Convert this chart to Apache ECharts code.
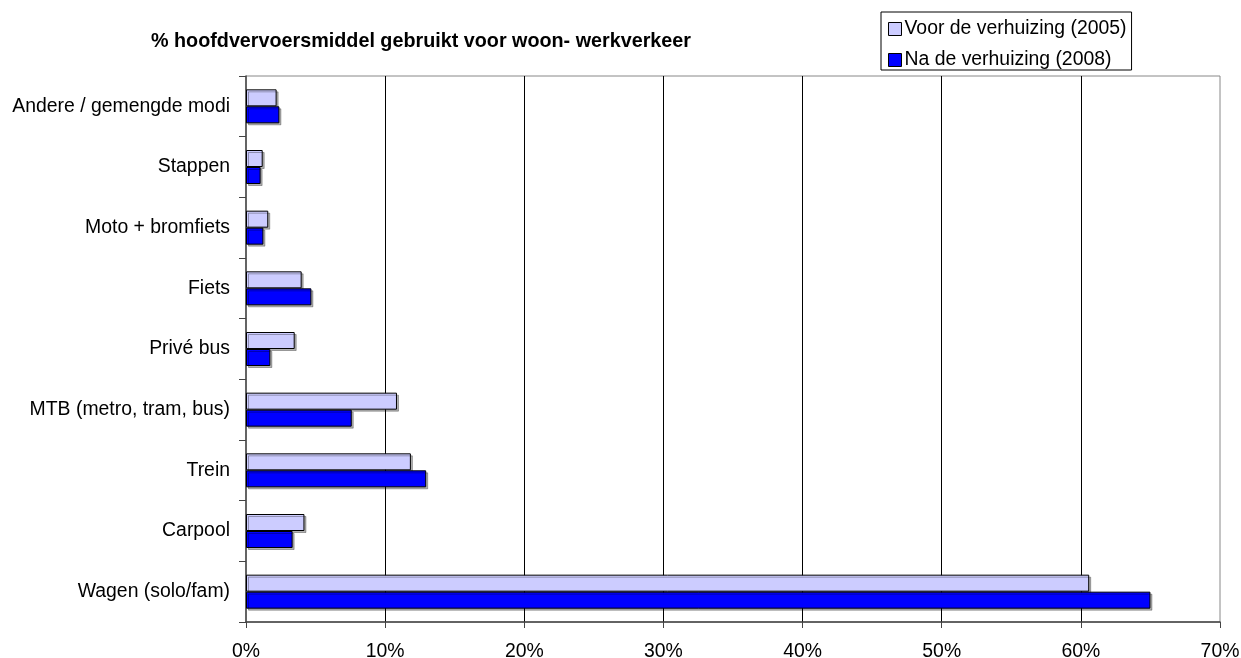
<!DOCTYPE html>
<html>
<head>
<meta charset="utf-8">
<script src="https://cdn.jsdelivr.net/npm/echarts@6/dist/echarts.min.js"></script>
<style>
  html, body { margin: 0; padding: 0; background: #fff; }
  #chart { width: 1241px; height: 658px; }
</style>
</head>
<body>
<div id="chart"></div>
<script>
// categories from top to bottom
const categories = [
  "Andere / gemengde modi",
  "Stappen",
  "Moto + bromfiets",
  "Fiets",
  "Privé bus",
  "MTB (metro, tram, bus)",
  "Trein",
  "Carpool",
  "Wagen (solo/fam)",
];
const voor2005 = [2.2, 1.2, 1.6, 4.0, 3.5, 10.85, 11.85, 4.2, 60.6];
const na2008 = [2.4, 1.05, 1.25, 4.7, 1.75, 7.6, 12.95, 3.35, 65.0];
const xTicks = { min: 0, max: 70, interval: 10 };

const font = "'Liberation Sans', Arial, sans-serif";

function barSeries(name, data, fill) {
  return {
    name,
    type: "bar",
    data,
    barWidth: 17,
    barGap: "0%",
    itemStyle: {
      color: fill,
      borderColor: "#000",
      borderWidth: 1,
      shadowColor: "rgba(0,0,0,0.3)",
      shadowOffsetX: 2,
      shadowOffsetY: 2,
      shadowBlur: 0,
    },
    emphasis: { disabled: true },
  };
}

const chart = echarts.init(document.getElementById("chart"), null, { renderer: "canvas" });
chart.setOption({
  backgroundColor: "#fff",
  animation: false,
  textStyle: { fontFamily: font },
  title: {
    text: "% hoofdvervoersmiddel gebruikt voor woon- werkverkeer",
    left: 151,
    top: 32,
    padding: 0,
    textStyle: { fontFamily: font, fontSize: 19.75, fontWeight: "bold", color: "#000" },
  },
  legend: {
    orient: "vertical",
    left: 881,
    top: 12,
    padding: [7, 5, 0, 7],
    borderColor: "#000",
    borderWidth: 1,
    itemWidth: 13,
    itemHeight: 13,
    itemGap: 11,
    icon: "rect",
    data: ["Voor de verhuizing (2005)", "Na de verhuizing (2008)"],
    itemStyle: { borderColor: "#000", borderWidth: 1, shadowColor: "transparent" },
    textStyle: { fontFamily: font, fontSize: 19.4, lineHeight: 20, color: "#000", padding: [0, 0, 0, -2] },
  },
  grid: {
    left: 246,
    right: 21,
    top: 76,
    bottom: 36,
    outerBoundsMode: "none",
    show: true,
    borderColor: "#888",
    borderWidth: 1,
  },
  xAxis: {
    type: "value",
    min: xTicks.min,
    max: xTicks.max,
    interval: xTicks.interval,
    axisLine: { show: true, lineStyle: { color: "#444", width: 1.5 } },
    axisTick: { show: true, length: 6, lineStyle: { color: "#444" } },
    axisLabel: {
      formatter: "{value}%",
      color: "#000",
      fontSize: 19.4,
      fontFamily: font,
      margin: 20,
    },
    splitLine: {
      show: true,
      showMinLine: false,
      showMaxLine: false,
      lineStyle: { color: "#000", width: 1 },
    },
  },
  yAxis: {
    type: "category",
    inverse: true,
    data: categories,
    axisLine: { show: true, lineStyle: { color: "#444", width: 1.5 } },
    axisTick: { show: true, length: 7, lineStyle: { color: "#444" } },
    axisLabel: { color: "#000", fontSize: 19.4, fontFamily: font, margin: 16 },
    splitLine: { show: false },
  },
  series: [
    barSeries("Voor de verhuizing (2005)", voor2005, "#ccccff"),
    barSeries("Na de verhuizing (2008)", na2008, "#0000ff"),
  ],
});
</script>
</body>
</html>
